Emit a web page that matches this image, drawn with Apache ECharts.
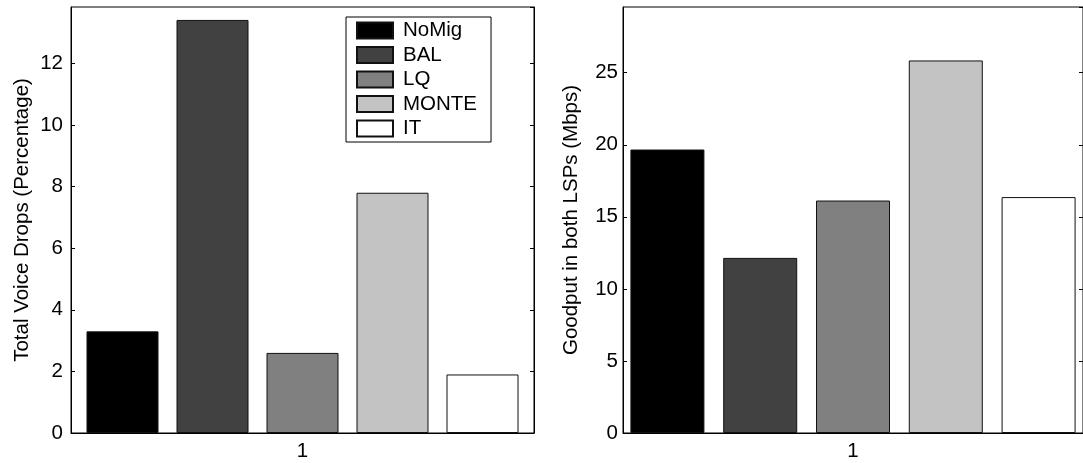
<!DOCTYPE html>
<html>
<head>
<meta charset="utf-8">
<script src="https://cdn.jsdelivr.net/npm/echarts@6/dist/echarts.min.js"></script>
<style>
  html, body { margin: 0; padding: 0; background: #fff; }
  #chart { width: 1083px; height: 463px; }
</style>
</head>
<body>
<div id="chart"></div>
<script>
// data
var categories = ['1']
var schemes = ['NoMig', 'BAL', 'LQ', 'MONTE', 'IT']
var schemeColors = ['#000000', '#414141', '#808080', '#c3c3c3', '#ffffff']
var voiceDrops = [3.3, 13.41, 2.6, 7.8, 1.9]
var goodput = [19.67, 12.15, 16.13, 25.85, 16.37]

var font = 'Liberation Sans, Arial, Helvetica, sans-serif'

function mkSeries(values, idx, barWidth, barGap) {
  return schemes.map(function (name, i) {
    return {
      name: name,
      type: 'bar',
      xAxisIndex: idx,
      yAxisIndex: idx,
      barWidth: barWidth,
      barGap: barGap,
      data: [values[i]],
      itemStyle: {
        color: schemeColors[i],
        borderColor: '#111',
        borderWidth: 1
      },
      emphasis: { disabled: true }
    }
  })
}

function mkY(idx, max, interval, name, nameGap, labelMargin) {
  return {
    type: 'value',
    gridIndex: idx,
    min: 0,
    max: max,
    interval: interval,
    name: name,
    nameLocation: 'middle',
    nameGap: nameGap,
    nameTextStyle: { fontFamily: font, fontSize: 20.5, color: '#000' },
    axisLine: { show: true, lineStyle: { color: '#000', width: 1 } },
    axisTick: { show: true, inside: true, length: 4, lineStyle: { color: '#000' } },
    axisLabel: { fontFamily: font, fontSize: 20.5, color: '#000', margin: labelMargin, showMaxLabel: false },
    splitLine: { show: false }
  }
}

// mirrored right-hand axis with only inward ticks (MATLAB box)
function mkYMirror(idx, max, interval) {
  return {
    type: 'value',
    gridIndex: idx,
    position: 'right',
    min: 0,
    max: max,
    interval: interval,
    axisLine: { show: true, lineStyle: { color: '#000', width: 1 } },
    axisTick: { show: true, inside: true, length: 4, lineStyle: { color: '#000' } },
    axisLabel: { show: false },
    splitLine: { show: false }
  }
}

function mkX(idx) {
  return {
    type: 'category',
    gridIndex: idx,
    data: categories,
    axisLine: { show: true, lineStyle: { color: '#000', width: 1 } },
    axisTick: { show: true, inside: true, length: 4, alignWithLabel: true, lineStyle: { color: '#000' } },
    axisLabel: { fontFamily: font, fontSize: 20.5, color: '#000', margin: 8 },
    splitLine: { show: false }
  }
}

var chart = echarts.init(document.getElementById('chart'))
chart.setOption({
  animation: false,
  backgroundColor: '#fff',
  grid: [
    { left: 71, top: 7, width: 463, height: 426, show: true, borderColor: '#000', borderWidth: 1, backgroundColor: '#fff' },
    { left: 623, top: 7, width: 462, height: 426, show: true, borderColor: '#000', borderWidth: 1, backgroundColor: '#fff' }
  ],
  legend: {
    data: schemes,
    orient: 'vertical',
    left: 346,
    top: 17,
    itemWidth: 36,
    itemHeight: 16,
    itemGap: 3.5,
    padding: [3, 14, 3, 10],
    borderColor: '#000',
    borderWidth: 1,
    backgroundColor: '#fff',
    icon: 'rect',
    selectedMode: false,
    textStyle: { fontFamily: font, fontSize: 20.5, color: '#000', padding: [0, 0, 0, 5] }
  },
  xAxis: [mkX(0), mkX(1)],
  yAxis: [
    mkY(0, 13.83, 2, 'Total Voice Drops (Percentage)', 38, 8),
    mkY(1, 29.56, 5, 'Goodput in both LSPs (Mbps)', 41, 5),
    mkYMirror(0, 13.83, 2),
    mkYMirror(1, 29.56, 5)
  ],
  series: mkSeries(voiceDrops, 0, 72, '25%').concat(mkSeries(goodput, 1, 74, '25.4%'))
})
</script>
</body>
</html>
